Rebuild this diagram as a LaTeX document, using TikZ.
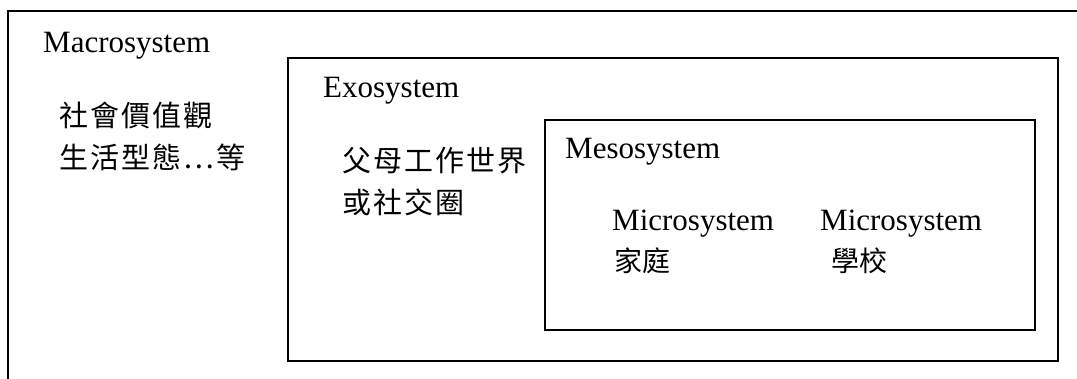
\documentclass[tikz,border=0pt]{standalone}
\usepackage{fontspec}
\setmainfont{Liberation Serif}
\newfontfamily\cjk{Noto Sans CJK TC}
\newfontfamily\cjksp[LetterSpace=7]{Noto Sans CJK TC}
\begin{document}
\begin{tikzpicture}[x=1pt,y=-1pt,
  frame/.style={draw=black,line width=1.6pt},
  lbl/.style={anchor=base west,inner sep=0pt,font=\fontsize{31}{37}\selectfont},
  zh/.style={anchor=base west,inner sep=0pt,font=\fontsize{29}{40}\selectfont\cjksp},
  zhn/.style={anchor=base west,inner sep=0pt,font=\fontsize{28}{40}\selectfont\cjk}]
\useasboundingbox (0,0) rectangle (1077,378);
\clip (0,0) rectangle (1077,378);
\fill[white] (0,0) rectangle (1077,378);
% boxes
\draw[frame] (8,11) rectangle (1100,400);
\draw[frame] (288,58) rectangle (1058,361);
\draw[frame] (545,120) rectangle (1035,330);
% texts
\node[lbl] (macro) at (43,52) {Macrosystem};
\node[zh] (macro1) at (59,126) {社會價值觀};
\node[zh] (macro2) at (59,168) {生活型態⋯等};
\node[lbl] (exo) at (323,97) {Exosystem};
\node[zh] (exo1) at (342,171) {父母工作世界};
\node[zh] (exo2) at (342,213) {或社交圈};
\node[lbl] (meso) at (565,158) {Mesosystem};
\node[lbl] (micro1) at (612,230) {Microsystem};
\node[zhn] (home) at (614,271) {家庭};
\node[lbl] (micro2) at (820,230) {Microsystem};
\node[zhn] (school) at (831,271) {學校};
\end{tikzpicture}
\end{document}
